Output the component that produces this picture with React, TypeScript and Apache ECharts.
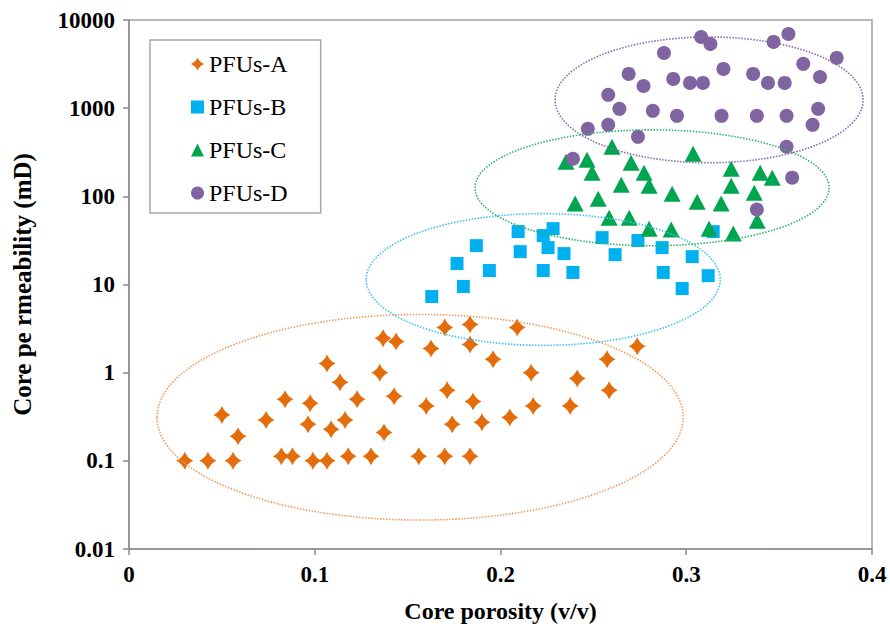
import React, { useEffect, useRef } from "react";
import * as echarts from "echarts";

// ---- Data ----
const seriesNames = ["PFUs-A", "PFUs-B", "PFUs-C", "PFUs-D"];

const porosityA = [0.030, 0.0425, 0.056, 0.050, 0.0587, 0.0738, 0.084, 0.082, 0.088, 0.0975, 0.0964, 0.099, 0.1066, 0.1066, 0.1088, 0.1136, 0.1163, 0.118, 0.1228, 0.1303, 0.135, 0.1368, 0.1373, 0.1427, 0.1438, 0.156, 0.160, 0.1626, 0.170, 0.170, 0.1713, 0.174, 0.1836, 0.1836, 0.1836, 0.1852, 0.190, 0.196, 0.205, 0.209, 0.2165, 0.2176, 0.2375, 0.2413, 0.2574, 0.2585, 0.2736];
const permA = [0.1, 0.1, 0.1, 0.33, 0.19, 0.29, 0.50, 0.113, 0.113, 0.45, 0.26, 0.1, 1.27, 0.1, 0.228, 0.78, 0.29, 0.113, 0.50, 0.113, 1.0, 2.45, 0.21, 0.54, 2.26, 0.113, 0.42, 1.88, 3.26, 0.113, 0.63, 0.26, 3.52, 2.09, 0.113, 0.47, 0.274, 1.42, 0.31, 3.26, 1.0, 0.42, 0.42, 0.86, 1.42, 0.63, 1.99];

const porosityB = [0.163, 0.180, 0.1766, 0.187, 0.194, 0.2095, 0.2106, 0.223, 0.223, 0.2283, 0.2256, 0.2342, 0.239, 0.2547, 0.2617, 0.274, 0.287, 0.2876, 0.2978, 0.3032, 0.3118, 0.3145];
const permB = [7.3, 9.5, 17.3, 27.6, 14.4, 39.8, 23.6, 14.4, 35.9, 43, 26.2, 22.4, 13.7, 34, 21.8, 31.5, 26.2, 13.7, 9.0, 20.7, 12.6, 39.8];

const porosityC = [0.260, 0.3037, 0.2353, 0.2466, 0.2703, 0.2493, 0.2773, 0.3242, 0.3398, 0.3463, 0.265, 0.280, 0.3242, 0.3366, 0.2924, 0.2402, 0.2526, 0.3059, 0.3188, 0.2585, 0.2693, 0.280, 0.2919, 0.3123, 0.3253, 0.3382];
const permC = [365, 304, 247, 260, 240, 185, 185, 206, 185, 163, 135, 132, 132, 110, 107, 83, 94, 87, 83, 57, 57, 43, 42, 43, 38, 53];

const porosityD = [0.239, 0.247, 0.258, 0.258, 0.264, 0.269, 0.274, 0.277, 0.282, 0.288, 0.293, 0.295, 0.302, 0.308, 0.309, 0.313, 0.319, 0.320, 0.336, 0.338, 0.338, 0.344, 0.347, 0.353, 0.354, 0.354, 0.355, 0.357, 0.363, 0.368, 0.371, 0.372, 0.381];
const permD = [267, 583, 647, 1415, 982, 2445, 473, 1787, 933, 4230, 2147, 818, 1934, 6410, 1934, 5350, 818, 2786, 2445, 818, 71, 1934, 5640, 1934, 818, 365, 6940, 163, 3180, 647, 982, 2260, 3715];

// Group ellipses (centre porosity, centre permeability, half-width in porosity, half-height in decades)
const ellipseCenterX = [0.1567, 0.223, 0.2816, 0.3123];
const ellipseCenterY = [0.312, 11.4, 125, 1242];
const ellipseHalfWidth = [0.1416, 0.0953, 0.0953, 0.0829];
const ellipseHalfDecades = [1.166, 0.747, 0.657, 0.713];

const xTickLabels = ["0", "0.1", "0.2", "0.3", "0.4"];
const yTickLabels = ["0.01", "0.1", "1", "10", "100", "1000", "10000"];

const markerColors = ["#E46C0A", "#00B0F0", "#00A550", "#8064A2"];
const ellipseColors = ["#F29A5C", "#3EC1F3", "#2DB567", "#8A68B4"];

const DIAMOND = "path://M0,-10 Q3,-3 10,0 Q3,3 0,10 Q-3,3 -10,0 Q-3,-3 0,-10 Z";

const FONT = '"Liberation Serif", "Times New Roman", serif';

function zip(xs: number[], ys: number[]) {
  return xs.map((x, i) => [x, ys[i]]);
}

export default function App() {
  const ref = useRef<HTMLDivElement>(null);
  useEffect(() => {
    if (!ref.current) return;
    const chart = echarts.init(ref.current, undefined, { renderer: "svg" });
    const ellipseData = ellipseCenterX.map((cx, i) => [cx, ellipseCenterY[i], ellipseHalfWidth[i], ellipseHalfDecades[i]]);
    const option: any = {
      animation: false,
      backgroundColor: "#ffffff",
      grid: {
        left: 129,
        right: 18,
        top: 20,
        bottom: 78,
        show: true,
        borderColor: "#a0a0a0",
        borderWidth: 1.5,
      },
      legend: {
        orient: "vertical",
        left: 150,
        top: 40,
        padding: [12, 33, 8, 41],
        itemGap: 19,
        itemWidth: 13,
        itemHeight: 13,
        borderColor: "#a6a6a6",
        borderWidth: 1.5,
        textStyle: { fontFamily: FONT, fontSize: 24, color: "#000", lineHeight: 24 },
        data: [
          { name: seriesNames[0], icon: DIAMOND },
          { name: seriesNames[1], icon: "rect" },
          { name: seriesNames[2], icon: "triangle" },
          { name: seriesNames[3], icon: "circle" },
        ],
      },
      xAxis: {
        type: "value",
        min: 0,
        max: 0.4,
        interval: 0.1,
        name: "Core porosity (v/v)",
        nameLocation: "middle",
        nameGap: 50,
        nameTextStyle: { fontFamily: FONT, fontSize: 24, fontWeight: "bold", color: "#000" },
        axisLine: { show: true, onZero: false, lineStyle: { color: "#8c8c8c", width: 1.5 } },
        axisTick: { show: true, inside: false, length: 6, lineStyle: { color: "#8c8c8c", width: 1.5 } },
        splitLine: { show: false },
        axisLabel: {
          margin: 14,
          fontFamily: FONT,
          fontSize: 23,
          fontWeight: "bold",
          color: "#000",
          formatter: (v: number) => xTickLabels[Math.round(v * 10)] ?? "",
        },
      },
      yAxis: {
        type: "log",
        logBase: 10,
        min: 0.01,
        max: 10000,
        name: "Core pe rmeability (mD)",
        nameLocation: "middle",
        nameGap: 94,
        nameTextStyle: { fontFamily: FONT, fontSize: 25, fontWeight: "bold", color: "#000" },
        axisLine: { show: true, lineStyle: { color: "#8c8c8c", width: 1.5 } },
        axisTick: { show: true, inside: false, length: 6, lineStyle: { color: "#8c8c8c", width: 1.5 } },
        splitLine: { show: false },
        minorTick: { show: false },
        axisLabel: {
          margin: 14,
          fontFamily: FONT,
          fontSize: 23,
          fontWeight: "bold",
          color: "#000",
          formatter: (v: number) => yTickLabels[Math.round(Math.log10(v)) + 2] ?? "",
        },
      },
      series: [
        {
          name: seriesNames[0],
          type: "scatter",
          symbol: DIAMOND,
          symbolSize: [17, 18],
          itemStyle: { color: markerColors[0], opacity: 1 },
          data: zip(porosityA, permA),
          z: 2,
        },
        {
          name: seriesNames[1],
          type: "scatter",
          symbol: "rect",
          symbolSize: 13,
          itemStyle: { color: markerColors[1], opacity: 1 },
          data: zip(porosityB, permB),
          z: 2,
        },
        {
          name: seriesNames[2],
          type: "scatter",
          symbol: "triangle",
          symbolSize: [17, 16],
          itemStyle: { color: markerColors[2], opacity: 1 },
          data: zip(porosityC, permC),
          z: 2,
        },
        {
          name: seriesNames[3],
          type: "scatter",
          symbol: "circle",
          symbolSize: 14,
          itemStyle: { color: markerColors[3], opacity: 1 },
          data: zip(porosityD, permD),
          z: 2,
        },
        {
          name: "groups",
          type: "custom",
          clip: false,
          silent: true,
          z: 3,
          encode: { x: 0, y: 1 },
          data: ellipseData,
          renderItem: (params: any, api: any) => {
            const cx = api.value(0);
            const cy = api.value(1);
            const hw = api.value(2);
            const hd = api.value(3);
            const c = api.coord([cx, cy]);
            const e = api.coord([cx + hw, cy * Math.pow(10, hd)]);
            return {
              type: "ellipse",
              shape: { cx: c[0], cy: c[1], rx: Math.abs(e[0] - c[0]), ry: Math.abs(c[1] - e[1]) },
              style: {
                fill: "transparent",
                stroke: ellipseColors[params.dataIndex],
                lineWidth: 1.6,
                lineDash: [1.5, 1.5],
              },
            };
          },
        },
      ],
    };
    chart.setOption(option);
    return () => chart.dispose();
  }, []);
  return (
    <div
      ref={ref}
      style={{ position: "absolute", left: 0, top: 0, width: 890, height: 628, background: "#fff" }}
    />
  );
}
